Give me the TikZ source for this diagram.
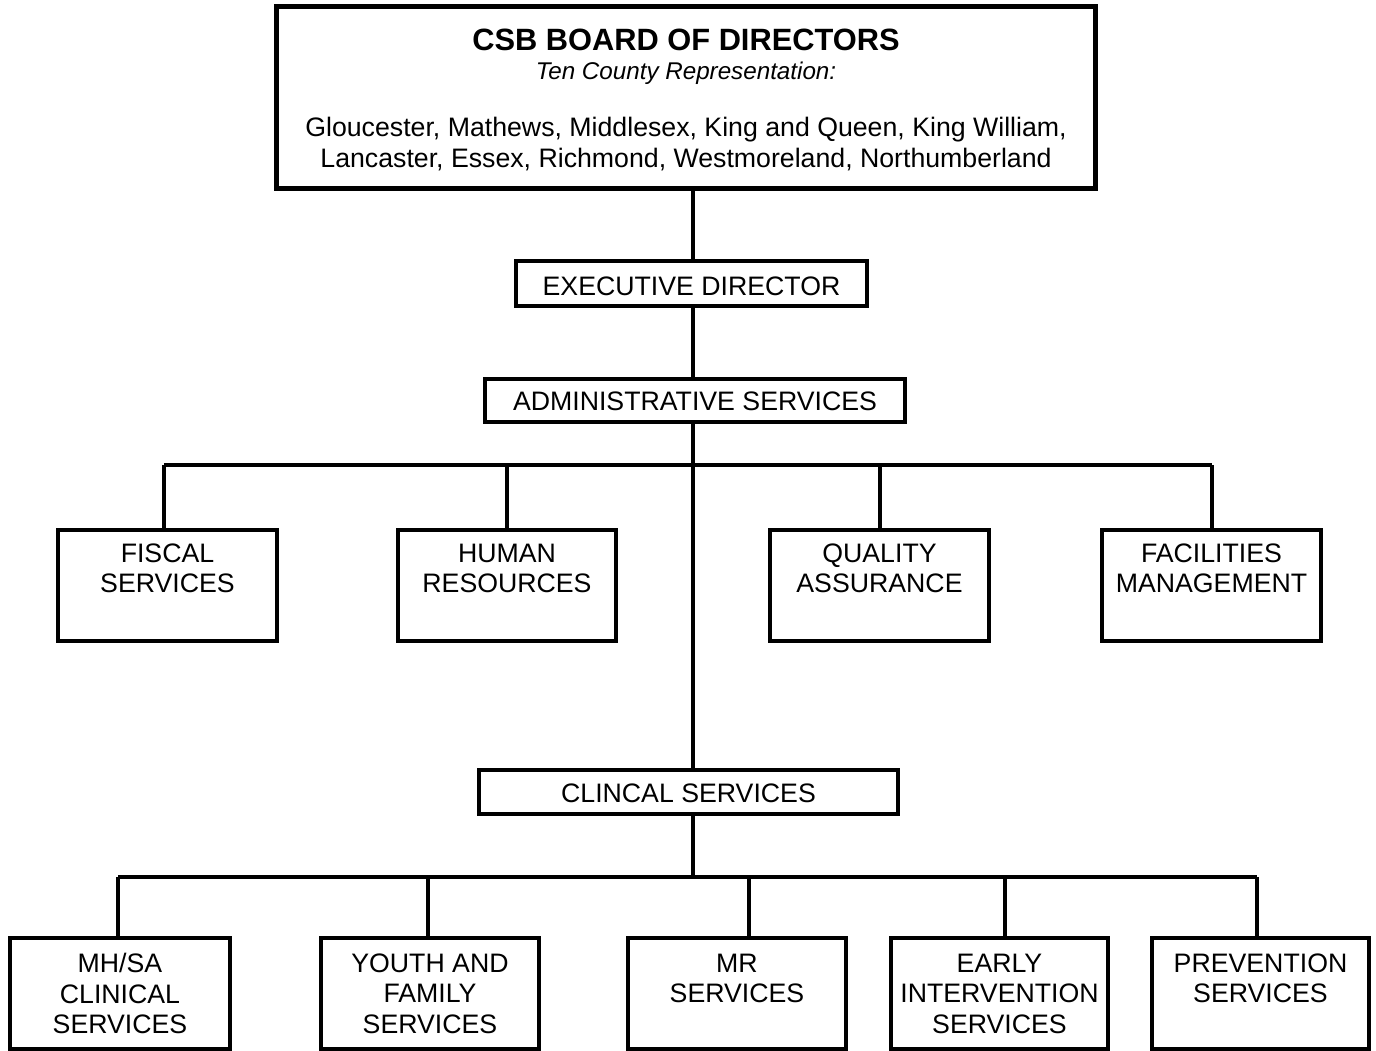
\documentclass[tikz,border=0pt]{standalone}
\usepackage{fontspec}
\setmainfont{Liberation Sans}
\begin{document}
\begin{tikzpicture}[x=1pt,y=-1pt,
  box/.style={draw, line width=4pt, inner sep=0pt, minimum width=#1},
  bigbox/.style={draw, line width=5pt, inner sep=0pt},
  lbl/.style={anchor=north, align=center, inner sep=0pt, font=\fontsize{26.7}{30.5}\selectfont},
  conn/.style={line width=4pt}]
\useasboundingbox (0,0) rectangle (1376,1051);
% board
\node[bigbox, minimum width=818.5pt, minimum height=182.5pt] (board) at (686,97.75) {};
\node[anchor=north, inner sep=0pt, font=\fontsize{30.8}{36}\selectfont\bfseries] (title) at (686,28.5) {CSB BOARD OF DIRECTORS};
\node[anchor=north, inner sep=0pt, font=\fontsize{24.2}{28}\selectfont\itshape] (sub) at (686,62) {Ten County Representation:};
\node[lbl] (counties) at (686,117) {Gloucester, Mathews, Middlesex, King and Queen, King William,\\Lancaster, Essex, Richmond, Westmoreland, Northumberland};
% management
\node[box=351pt, minimum height=45pt] (exec) at (691.5,283.5) {};
\node[lbl] at (exec.north) [yshift=-17.5pt] {EXECUTIVE DIRECTOR};
\node[box=420pt, minimum height=43pt] (admin) at (695,400.5) {};
\node[lbl] at (admin.north) [yshift=-14.5pt] {ADMINISTRATIVE SERVICES};
\node[box=419pt, minimum height=44pt] (clin) at (688.5,792) {};
\node[lbl] at (clin.north) [yshift=-15.5pt] {CLINCAL SERVICES};
% admin row
\node[box=219pt, minimum height=111pt] (fiscal) at (167.5,585.5) {};
\node[box=218pt, minimum height=111pt] (hr) at (507,585.5) {};
\node[box=219pt, minimum height=111pt] (qa) at (879.5,585.5) {};
\node[box=219pt, minimum height=111pt] (fac) at (1211.5,585.5) {};
\node[lbl] at (fiscal.north) [yshift=-15.5pt] {FISCAL\\SERVICES};
\node[lbl] at (hr.north) [yshift=-15.5pt] {HUMAN\\RESOURCES};
\node[lbl] at (qa.north) [yshift=-15.5pt] {QUALITY\\ASSURANCE};
\node[lbl] at (fac.north) [yshift=-15.5pt] {FACILITIES\\MANAGEMENT};
% clinical row
\node[box=220pt, minimum height=111pt] (mhsa) at (120,993.5) {};
\node[box=218pt, minimum height=111pt] (youth) at (430,993.5) {};
\node[box=218pt, minimum height=111pt] (mr) at (737,993.5) {};
\node[box=217pt, minimum height=111pt] (early) at (999.5,993.5) {};
\node[box=217pt, minimum height=111pt] (prev) at (1260.5,993.5) {};
\node[lbl] at (mhsa.north) [yshift=-17pt] {MH/SA\\CLINICAL\\SERVICES};
\node[lbl] at (youth.north) [yshift=-17.5pt] {YOUTH AND\\FAMILY\\SERVICES};
\node[lbl] at (mr.north) [yshift=-17.5pt] {MR\\SERVICES};
\node[lbl] at (early.north) [yshift=-17.5pt] {EARLY\\INTERVENTION\\SERVICES};
\node[lbl] at (prev.north) [yshift=-17.5pt] {PREVENTION\\SERVICES};
% connectors
\coordinate (spine) at (693,0);
\draw[conn] (board.south -| spine) -- (exec.north -| spine);
\draw[conn] (exec.south -| spine) -- (admin.north -| spine);
\draw[conn] (admin.south -| spine) -- (clin.north -| spine);
\coordinate (a1) at (164,465);
\coordinate (a2) at (507,465);
\coordinate (a3) at (880,465);
\coordinate (a4) at (1212,465);
\draw[conn] (a1) -- (a4);
\draw[conn] (a1) -- (a1 |- fiscal.north);
\draw[conn] (a2) -- (a2 |- hr.north);
\draw[conn] (a3) -- (a3 |- qa.north);
\draw[conn] (a4) -- (a4 |- fac.north);
\coordinate (c1) at (118,877);
\coordinate (c2) at (428,877);
\coordinate (c3) at (749,877);
\coordinate (c4) at (1005,877);
\coordinate (c5) at (1257,877);
\draw[conn] (c1) -- (c5);
\draw[conn] (clin.south -| spine) -- (c1 -| spine);
\draw[conn] (c1) -- (c1 |- mhsa.north);
\draw[conn] (c2) -- (c2 |- youth.north);
\draw[conn] (c3) -- (c3 |- mr.north);
\draw[conn] (c4) -- (c4 |- early.north);
\draw[conn] (c5) -- (c5 |- prev.north);
\end{tikzpicture}
\end{document}
